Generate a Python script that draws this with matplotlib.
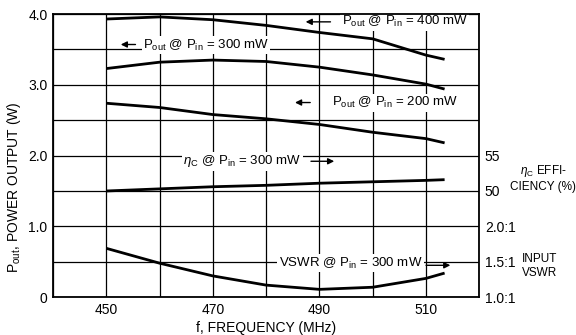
import numpy as np
import matplotlib
matplotlib.use("Agg")
import matplotlib.pyplot as plt

# Daten
freq = [450, 460, 470, 480, 490, 500, 510, 513.5]
p_out_400 = [3.93, 3.96, 3.92, 3.84, 3.74, 3.65, 3.42, 3.36]
p_out_300 = [3.23, 3.32, 3.35, 3.33, 3.25, 3.14, 3.01, 2.94]
p_out_200 = [2.74, 2.68, 2.58, 2.52, 2.44, 2.33, 2.24, 2.18]
eff_300 = [50.0, 50.3, 50.6, 50.8, 51.1, 51.3, 51.5, 51.6]   # %
vswr_300 = [1.69, 1.48, 1.30, 1.17, 1.11, 1.14, 1.265, 1.34]

x_ticks = [450, 470, 490, 510]
y_ticks = [0, 1.0, 2.0, 3.0, 4.0]
y_tick_labels = ["0", "1.0", "2.0", "3.0", "4.0"]
right_ticks = [0, 0.5, 1.0, 1.5, 2.0]
right_labels = ["1.0:1", "1.5:1", "2.0:1", "50", "55"]

plt.rcParams['font.family'] = ['Liberation Sans', 'DejaVu Sans']
plt.rcParams['mathtext.fontset'] = 'custom'
plt.rcParams['mathtext.rm'] = 'Liberation Sans'
plt.rcParams['mathtext.it'] = 'Liberation Sans:italic'
plt.rcParams['font.size'] = 9.5


def eff_to_axis(e):
    return (np.array(e) - 50.0) / 10.0 + 1.5


def vswr_to_axis(v):
    return np.array(v) - 1.0


fig = plt.figure(figsize=(5.76, 3.35), dpi=100)
ax = fig.add_axes([0.092, 0.113, 0.740, 0.845])

ax.set_xlim(440, 520)
ax.set_ylim(0, 4.0)
ax.set_xticks(np.arange(440, 521, 10), minor=True)
ax.set_yticks(np.arange(0, 4.01, 0.5), minor=True)
ax.set_xticks(x_ticks)
ax.set_yticks(y_ticks)
ax.set_yticklabels(y_tick_labels)
ax.grid(which='both', color='black', linewidth=0.9)
ax.tick_params(which='both', length=0, labelsize=10, pad=4)
for s in ax.spines.values():
    s.set_linewidth(1.3)

kw = dict(color='black', linewidth=2.0, solid_capstyle='butt')
ax.plot(freq, p_out_400, **kw)
ax.plot(freq, p_out_300, **kw)
ax.plot(freq, p_out_200, **kw)
ax.plot(freq, eff_to_axis(eff_300), **kw)
ax.plot(freq, vswr_to_axis(vswr_300), **kw)

ax2 = ax.twinx()
ax2.set_ylim(0, 4.0)
ax2.set_yticks(right_ticks)
ax2.set_yticklabels(right_labels)
ax2.tick_params(length=0, labelsize=10, pad=4)
for s in ax2.spines.values():
    s.set_visible(False)

box = dict(facecolor='white', edgecolor='none', pad=1)
arr = dict(arrowstyle='-|>', color='black', linewidth=1.0, mutation_scale=9)

# Beschriftungen
ax.text(494.2, 3.89, r'P$_{\mathrm{out}}$ @ P$_{\mathrm{in}}$ = 400 mW', va='center', ha='left', bbox=box, zorder=2.2)
ax.annotate('', xy=(486.9, 3.89), xytext=(492.6, 3.89), arrowprops=arr, zorder=2.2)

ax.text(456.9, 3.56, r'P$_{\mathrm{out}}$ @ P$_{\mathrm{in}}$ = 300 mW', va='center', ha='left', bbox=box, zorder=2.2)
ax.annotate('', xy=(452.2, 3.57), xytext=(456.0, 3.57), arrowprops=arr, zorder=2.2)

ax.text(492.3, 2.75, r'P$_{\mathrm{out}}$ @ P$_{\mathrm{in}}$ = 200 mW', va='center', ha='left', bbox=box, zorder=2.2)
ax.annotate('', xy=(484.9, 2.75), xytext=(488.8, 2.75), arrowprops=arr, zorder=2.2)

ax.text(464.4, 1.92, r'$\eta_{\mathrm{C}}$ @ P$_{\mathrm{in}}$ = 300 mW', va='center', ha='left', bbox=box, zorder=2.2)
ax.annotate('', xy=(493.3, 1.92), xytext=(487.9, 1.92), arrowprops=arr, zorder=2.2)

ax.text(482.4, 0.48, r'VSWR @ P$_{\mathrm{in}}$ = 300 mW', va='center', ha='left', bbox=box, zorder=2.2)
ax.annotate('', xy=(515.1, 0.45), xytext=(509.5, 0.45), arrowprops=arr, zorder=2.2)

fig.text(543 / 576, 1 - 178 / 335, '$\\eta_{\\mathrm{C}}$ EFFI-\nCIENCY (%)', ha='center', va='center', fontsize=8.5, linespacing=1.15)
fig.text(540 / 576, 1 - 266 / 335, 'INPUT\nVSWR', ha='center', va='center', fontsize=8.5, linespacing=1.15)

fig.text(14 / 576, 1 - 187 / 335, r'P$_{\mathrm{out}}$, POWER OUTPUT (W)', rotation=90, ha='center', va='center', fontsize=10)
fig.text(266 / 576, 1 - 328 / 335, 'f, FREQUENCY (MHz)', ha='center', va='center', fontsize=10)

fig.savefig('out.png', dpi=100, facecolor='white')
